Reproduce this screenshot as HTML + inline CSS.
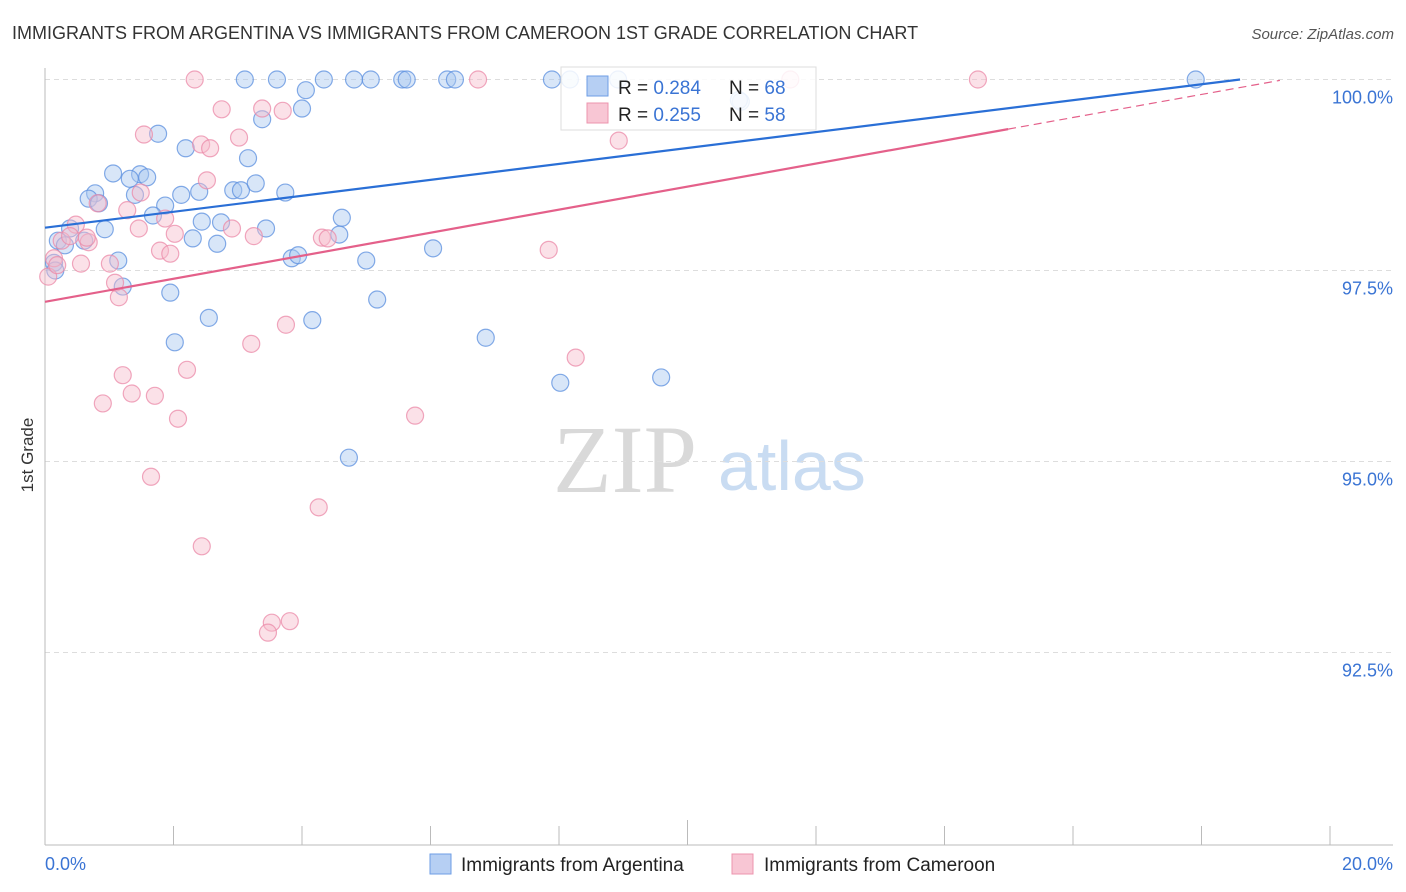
<!DOCTYPE html>
<html><head><meta charset="utf-8"><style>
body{margin:0;background:#fff;font-family:"Liberation Sans",sans-serif;}
svg{display:block}
</style></head><body>
<svg id="chart" width="1406" height="892" xmlns="http://www.w3.org/2000/svg">
<text x="12" y="39" font-size="18" fill="#333">IMMIGRANTS FROM ARGENTINA VS IMMIGRANTS FROM CAMEROON 1ST GRADE CORRELATION CHART</text>
<text x="1394" y="39" font-size="15" fill="#555" text-anchor="end" font-style="italic">Source: ZipAtlas.com</text>
<text x="33" y="455" font-size="17" fill="#333" text-anchor="middle" transform="rotate(-90 33 455)">1st Grade</text>
<g>
<text x="553" y="492" font-size="96" font-family="Liberation Serif,serif" fill="#d9d9d9">ZIP</text>
<text x="718" y="490" font-size="70" fill="#c9dcf2">atlas</text>
</g>
<g id="grid"></g>
<g id="axes"></g>
<g id="pts"></g>
<g id="trend"></g>
<g>
<rect x="561" y="67" width="255" height="63" fill="#fff" fill-opacity="0.85" stroke="#ddd"/>
<rect x="587" y="76" width="21" height="20" fill="#b6cff3" stroke="#6e9ee6"/>
<rect x="587" y="103" width="21" height="20" fill="#f8c6d4" stroke="#ec94ae"/>
<text x="618" y="94" font-size="19" fill="#222">R = <tspan fill="#3a74d4">0.284</tspan></text>
<text x="729" y="94" font-size="19" fill="#222">N = <tspan fill="#3a74d4">68</tspan></text>
<text x="618" y="121" font-size="19" fill="#222">R = <tspan fill="#3a74d4">0.255</tspan></text>
<text x="729" y="121" font-size="19" fill="#222">N = <tspan fill="#3a74d4">58</tspan></text>
</g>
<g>
<rect x="430" y="854" width="21" height="20" fill="#b6cff3" stroke="#6e9ee6"/>
<text x="461" y="871" font-size="19" fill="#222">Immigrants from Argentina</text>
<rect x="732" y="854" width="21" height="20" fill="#f8c6d4" stroke="#ec94ae"/>
<text x="764" y="871" font-size="19" fill="#222">Immigrants from Cameroon</text>
</g>
</svg>
<script>
const yTicks=[100,97.5,95,92.5];
const yTickLabels=["100.0%","97.5%","95.0%","92.5%"];
const xTicks=[0,2,4,6,8,10,12,14,16,18,20];
const xEndLabels=["0.0%","20.0%"];
const argX=[3.11,3.61,4.34,4.81,5.07,5.56,5.63,6.26,6.38,7.89,8.17,17.91,8.92,4.06,4.00,3.38,10.83,10.80,1.76,2.19,3.16,1.06,1.48,1.59,1.32,0.78,0.68,0.84,1.40,1.87,2.12,2.40,2.93,3.05,3.28,3.74,1.68,2.44,2.74,3.44,4.62,4.58,0.93,0.39,0.20,0.31,0.61,2.30,2.68,3.84,3.94,5.00,6.04,1.14,0.14,0.16,1.21,1.95,5.17,2.55,4.16,2.02,6.86,8.02,9.59,4.73];
const argY=[100,100,100,100,100,100,100,100,100,100,100,100,100,99.86,99.62,99.48,99.71,99.73,99.29,99.10,98.97,98.77,98.76,98.72,98.70,98.51,98.44,98.38,98.49,98.35,98.49,98.53,98.55,98.55,98.64,98.52,98.22,98.14,98.13,98.05,98.19,97.97,98.04,98.05,97.89,97.83,97.89,97.92,97.85,97.66,97.70,97.63,97.79,97.63,97.60,97.50,97.29,97.21,97.12,96.88,96.85,96.56,96.62,96.03,96.10,95.05];
const camX=[2.33,6.74,11.60,14.52,2.75,3.38,3.70,2.43,2.57,1.54,3.02,2.52,8.93,1.49,0.82,1.28,0.48,1.87,1.46,2.02,2.91,3.25,4.31,4.40,0.26,0.68,1.79,1.95,7.84,0.14,1.01,0.56,0.05,1.09,1.15,3.75,3.21,8.26,2.21,1.21,0.90,1.35,1.71,2.07,5.76,1.65,4.26,2.44,3.53,3.81,3.47,0.39,0.65,0.19];
const camY=[100,100,100,100,99.61,99.62,99.59,99.15,99.10,99.28,99.24,98.68,99.20,98.52,98.38,98.29,98.10,98.18,98.05,97.98,98.05,97.95,97.93,97.92,97.89,97.87,97.76,97.72,97.77,97.66,97.59,97.59,97.42,97.34,97.15,96.79,96.54,96.36,96.20,96.13,95.76,95.89,95.86,95.56,95.60,94.80,94.40,93.89,92.89,92.91,92.76,97.95,97.93,97.57];
const argTrend=[98.06,0.1043,18.6];      // intercept, slope, end x
const camTrend=[97.09,0.1508,14.99,19.22]; // intercept, slope, solid end, dashed end

const NS="http://www.w3.org/2000/svg";
const X0=45,X1=1330,YTOP=79.5,YPER=76.4;
function sx(v){return X0+(v-0)/(20-0)*(X1-X0);}
function sy(v){return YTOP+(100-v)*YPER;}
function mk(tag,attrs,parent){const e=document.createElementNS(NS,tag);for(const k in attrs)e.setAttribute(k,attrs[k]);parent.appendChild(e);return e;}

const grid=document.getElementById('grid');
yTicks.forEach((t,i)=>{
  const l=mk('line',{x1:X0,x2:1393,y1:sy(t),y2:sy(t),stroke:'#ddd','stroke-dasharray':'5,4'},grid);
  
  
  const tx=mk('text',{x:1393,y:sy(t)+24,'font-size':18,fill:'#3a74d4','text-anchor':'end'},grid);
  tx.textContent=yTickLabels[i];
  
  
});
const axes=document.getElementById('axes');
const ya=mk('line',{x1:X0,x2:X0,y1:68,y2:845,stroke:'#bbb'},axes);


const xa=mk('line',{x1:X0,x2:1393,y1:845,y2:845,stroke:'#bbb'},axes);


xTicks.forEach((t,i)=>{
  const tk=mk('line',{x1:sx(t),x2:sx(t),y1:(i===5?820:826),y2:845,stroke:'#bbb'},axes);
  
  
});
[[0,'start'],[20,'end']].forEach((p,i)=>{
  const tx=mk('text',{x:i===0?X0:1393,y:870,'font-size':18,fill:'#3a74d4','text-anchor':p[1]},axes);
  tx.textContent=xEndLabels[i];
  
  
});
const pts=document.getElementById('pts');
function drawPts(xs,ys,fill,stroke,name){
  xs.forEach((x,i)=>{
    const c=mk('circle',{cx:sx(x),cy:sy(ys[i]),r:8.5,fill:fill,'fill-opacity':0.45,stroke:stroke,'stroke-opacity':0.75,'stroke-width':1.2},pts);
    
    
  });
}
drawPts(argX,argY,'#a9c7f0','#5b8fdf','point-argentina');
drawPts(camX,camY,'#f7bccd','#eb8aa8','point-cameroon');
const tr=document.getElementById('trend');
const bl=mk('line',{x1:sx(0),y1:sy(argTrend[0]),x2:sx(argTrend[2]),y2:sy(argTrend[0]+argTrend[1]*argTrend[2]),stroke:'#2a6fd6','stroke-width':2.2},tr);


const pl=mk('line',{x1:sx(0),y1:sy(camTrend[0]),x2:sx(camTrend[2]),y2:sy(camTrend[0]+camTrend[1]*camTrend[2]),stroke:'#e4608a','stroke-width':2.2},tr);


const pd=mk('line',{x1:sx(camTrend[2]),y1:sy(camTrend[0]+camTrend[1]*camTrend[2]),x2:sx(camTrend[3]),y2:sy(camTrend[0]+camTrend[1]*camTrend[3]),stroke:'#e4608a','stroke-width':1.2,'stroke-dasharray':'8,5'},tr);


</script>
</body></html>
